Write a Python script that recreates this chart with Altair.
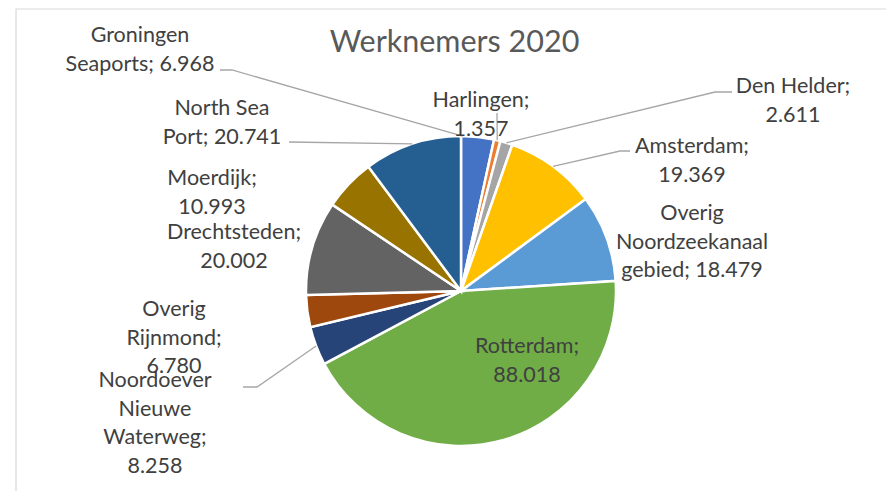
import math
import altair as alt
import pandas as pd

# ---------------- data ----------------
ports = ["Groningen Seaports", "Harlingen", "Den Helder", "Amsterdam",
         "Overig Noordzeekanaal gebied", "Rotterdam", "Noordoever Nieuwe Waterweg",
         "Overig Rijnmond", "Drechtsteden", "Moerdijk", "North Sea Port"]
values = [6.968, 1.357, 2.611, 19.369, 18.479, 88.018, 8.258, 6.780, 20.002, 10.993, 20.741]
label_lines = [
    ["Groningen", "Seaports; 6.968"],
    ["Harlingen;", "1.357"],
    ["Den Helder;", "2.611"],
    ["Amsterdam;", "19.369"],
    ["Overig", "Noordzeekanaal", "gebied; 18.479"],
    ["Rotterdam;", "88.018"],
    ["Noordoever", "Nieuwe", "Waterweg;", "8.258"],
    ["Overig", "Rijnmond;", "6.780"],
    ["Drechtsteden;", "20.002"],
    ["Moerdijk;", "10.993"],
    ["North Sea", "Port; 20.741"],
]
title_text = "Werknemers 2020"

# ---------------- style ----------------
colors = ["#4472C4", "#ED7D31", "#A5A5A5", "#FFC000", "#5B9BD5", "#70AD47",
          "#264478", "#9E480E", "#636363", "#997300", "#255E91"]
FONT = "Lato"
W, H = 878, 483
OFF = 8  # page margin
CX, CY, R = 461 - OFF, 291 - OFF, 155
LH = 28.5
# label centre x and first baseline (page coordinates)
label_pos = [(140, 42), (481, 107), (793, 93), (692, 153), (692, 220), (527, 353),
             (155, 387), (174, 316), (234, 239), (212, 185), (222, 115)]
# leader-line start points (page coords) and where on the slice they end
leader_start = {0: [(220, 70), (232, 70)], 1: [(497, 113)], 2: [(732, 92), (715, 92)],
                3: [(630, 151), (620, 151)], 10: [(289, 142)], 6: [(243, 387), (257, 387)]}
leader_frac = {0: 0.05, 1: 0.5, 2: 0.5, 3: 0.5, 10: 0.5, 6: 0.5}

# ---------------- tables ----------------
pie_df = pd.DataFrame({"port": ports, "value": values, "idx": range(len(ports))})

lab_df = pd.DataFrame({
    "port": ports,
    "text": label_lines,
    "lx": [p[0] - OFF for p in label_pos],
    "ly": [p[1] - OFF for p in label_pos],
})

total = sum(values)
cum = [0.0]
for v in values:
    cum.append(cum[-1] + v)
rows = []
for i, pts in leader_start.items():
    a = (cum[i] + leader_frac[i] * values[i]) / total * 2 * math.pi
    end = (CX + R * math.sin(a), CY - R * math.cos(a))
    seq = [(x - OFF, y - OFF) for x, y in pts] + [end]
    for k, (x, y) in enumerate(seq):
        rows.append({"port": ports[i], "k": k, "x": x, "y": y})
lead_df = pd.DataFrame(rows)

# ---------------- layers ----------------
frame = alt.Chart(pd.DataFrame({"a": [0]})).mark_rect(
    fill=None, stroke="#D9D9D9", strokeWidth=1.2
).encode(x=alt.value(8), y=alt.value(1), x2=alt.value(W + 40), y2=alt.value(H + 40))

pie = alt.Chart(pie_df).mark_arc(
    outerRadius=R, stroke="white", strokeWidth=2.5
).encode(
    theta=alt.Theta("value:Q", stack=True),
    order=alt.Order("idx:Q"),
    color=alt.Color("port:N", scale=alt.Scale(domain=ports, range=colors), legend=None),
    x=alt.value(CX), y=alt.value(CY),
)

leaders = alt.Chart(lead_df).mark_line(color="#A6A6A6", strokeWidth=1.3).encode(
    x=alt.X("x:Q", scale=None, axis=None),
    y=alt.Y("y:Q", scale=None, axis=None),
    detail="port:N",
    order="k:Q",
)

labels = alt.Chart(lab_df).mark_text(
    font=FONT, fontSize=21.5, color="#404040", align="center",
    baseline="alphabetic", lineHeight=LH
).encode(
    x=alt.X("lx:Q", scale=None, axis=None),
    y=alt.Y("ly:Q", scale=None, axis=None),
    text="text",
)

title = alt.Chart(pd.DataFrame({"t": [title_text]})).mark_text(
    font=FONT, fontSize=30.5, color="#595959", align="center", baseline="alphabetic"
).encode(x=alt.value(454.5 - OFF), y=alt.value(52 - OFF), text="t:N")

chart = alt.layer(frame, pie, leaders, labels, title).properties(
    width=W, height=H, padding=0, autosize=alt.AutoSizeParams(type="none")
).configure_view(stroke=None)

chart.save("out.html", embed_options={"renderer": "svg", "actions": False})
